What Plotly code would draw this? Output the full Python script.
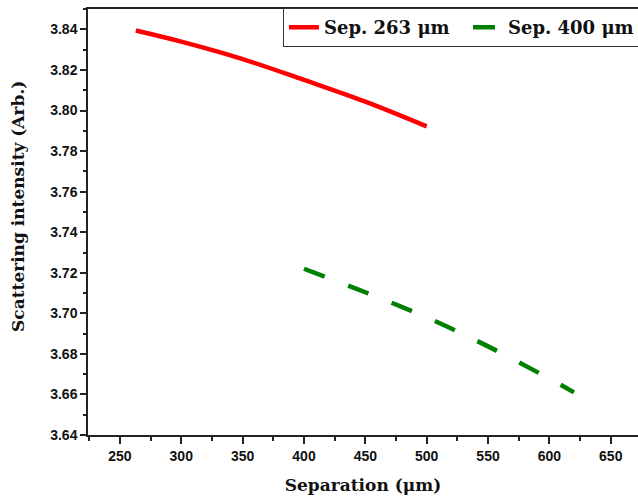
import plotly.graph_objects as go

# Data
sep263_x = [263, 300, 350, 400, 450, 500]
sep263_y = [3.8395, 3.8340, 3.8254, 3.8151, 3.8044, 3.7922]

sep400_x = [400, 450, 500, 550, 600, 620]
sep400_y = [3.7220, 3.7104, 3.6980, 3.6837, 3.6678, 3.6610]

x_ticks = [250, 300, 350, 400, 450, 500, 550, 600, 650]
y_ticks = [3.64, 3.66, 3.68, 3.70, 3.72, 3.74, 3.76, 3.78, 3.80, 3.82, 3.84]

series_names = ["Sep. 263 \u03bcm", "Sep. 400 \u03bcm"]
x_title = "Separation (\u03bcm)"
y_title = "Scattering intensity (Arb.)"

axis_col = "#222222"
tick_font = dict(family="Liberation Sans, Arial", size=14, color="#111111", weight="bold")
title_font = dict(family="DejaVu Serif, serif", size=17, color="#111111", weight="bold")

fig = go.Figure()
fig.add_trace(go.Scatter(
    x=sep263_x, y=sep263_y, mode="lines", name=series_names[0],
    line=dict(color="#ff0000", width=4.5, shape="spline"),
))
fig.add_trace(go.Scatter(
    x=sep400_x, y=sep400_y, mode="lines", name=series_names[1],
    line=dict(color="#008000", width=4.5, shape="spline", dash="22px,25px"),
))

fig.update_layout(
    width=638, height=497,
    margin=dict(l=88, r=0, t=9, b=62, autoexpand=False),
    paper_bgcolor="white", plot_bgcolor="white",
    showlegend=True,
    legend=dict(
        orientation="h", x=0.3545, xanchor="left", y=1.002, yanchor="top",
        bordercolor="#333333", borderwidth=1, bgcolor="white",
        font=dict(family="DejaVu Serif, serif", size=18, color="#111111", weight="bold"),
        entrywidth=139, entrywidthmode="pixels",
        tracegroupgap=0, itemwidth=30,
    ),
    annotations=[dict(
        text=y_title, xref="paper", yref="paper", x=-0.1273, y=0.5376,
        xanchor="center", yanchor="middle", textangle=-90, showarrow=False,
        font=title_font,
    )],
)

fig.update_xaxes(
    range=[224, 672.2], tickvals=x_ticks, ticks="outside", ticklen=7, tickwidth=1.5,
    tickcolor=axis_col, showline=True, linecolor=axis_col, linewidth=1.5, mirror=True,
    showgrid=False, zeroline=False, tickfont=tick_font,
    minor=dict(dtick=25, tick0=225, ticks="outside", ticklen=4, tickwidth=1.5, tickcolor=axis_col, showgrid=False),
    title=dict(text=x_title, font=title_font, standoff=17),
    automargin=False,
)
fig.update_yaxes(
    range=[3.64, 3.8501], tickvals=y_ticks, tickformat=".2f", ticks="outside", ticklen=6, tickwidth=1.5,
    tickcolor=axis_col, showline=True, linecolor=axis_col, linewidth=1.5,
    showgrid=False, zeroline=False, tickfont=tick_font,
    minor=dict(dtick=0.01, tick0=3.64, ticks="outside", ticklen=3, tickwidth=1.5, tickcolor=axis_col, showgrid=False),
    automargin=False,
)

fig.write_html("out.html", config={"displayModeBar": False},
               post_script="document.body.style.margin='0px';")
